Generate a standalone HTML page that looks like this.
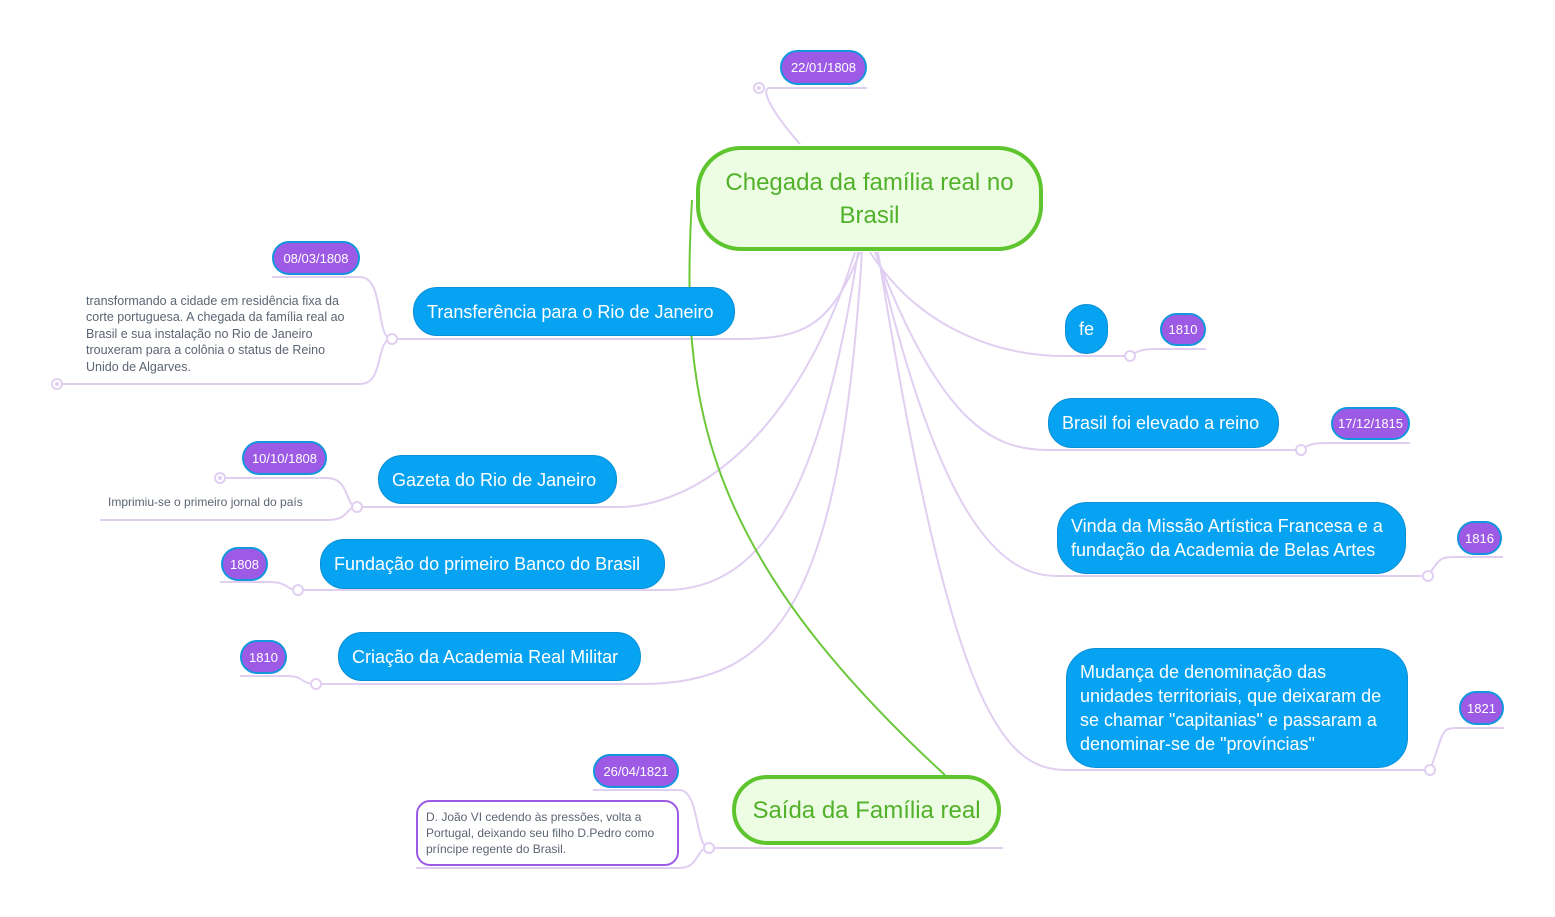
<!DOCTYPE html>
<html><head><meta charset="utf-8"><style>
body{margin:0;width:1555px;height:917px;background:#fff;position:relative;overflow:hidden;font-family:"Liberation Sans",sans-serif}
.n{position:absolute;box-sizing:border-box;background:#06a3f2;border:1.5px solid #0b8fd6;color:#fff;border-radius:24px;font-size:18px;display:flex;align-items:center;padding:0 13px;line-height:24px}
.t{position:absolute;box-sizing:border-box;background:#9d5ae5;border:2px solid #1296dc;color:#fff;border-radius:18px;font-size:13px;display:flex;align-items:center;justify-content:center}
.g{position:absolute;box-sizing:border-box;border:4px solid #5fc52f;background:#edfde3;color:#52b12a;font-size:24px;text-align:center;display:flex;align-items:center;justify-content:center;line-height:33px}
.note{position:absolute;font-size:12px;color:#5c6573;line-height:16.4px}
svg{position:absolute;left:0;top:0}
</style></head><body>
<svg width="1555" height="917" fill="none" stroke="#e1cff2" stroke-width="2">
<path d="M860 252 C830 330 800 339 735 339 L392 339"/>
<path d="M855 252 C800 430 700 507 617 507 L357 507"/>
<path d="M858 252 C820 500 760 590 665 590 L298 590"/>
<path d="M862 252 C840 600 780 684 641 684 L316 684"/>
<path d="M870 252 C920 330 1000 356 1065 356 L1130 356"/>
<path d="M875 252 C940 420 990 450 1048 450 L1301 450"/>
<path d="M877 252 C940 520 1000 576 1057 576 L1428 576"/>
<path d="M878 252 C950 700 1000 770 1066 770 L1430 770"/>
<path d="M392 339 C375 339 385 277 360 277 L272 277"/>
<path d="M392 339 C375 339 385 384 360 384 L57 384"/>
<path d="M357 507 C345 507 350 478 327 478 L220 478"/>
<path d="M357 507 C345 507 350 520 327 520 L100 520"/>
<path d="M298 590 C285 590 290 582 268 582 L220 582"/>
<path d="M316 684 C300 684 305 676 287 676 L240 676"/>
<path d="M1130 356 C1140 349 1145 349 1160 349 L1206 349"/>
<path d="M1301 450 C1310 443 1315 443 1331 443 L1410 443"/>
<path d="M1428 576 C1440 558 1440 557 1457 557 L1503 557"/>
<path d="M1430 770 C1445 730 1440 728 1459 728 L1504 728"/>
<path d="M709 848 C695 848 700 790 679 790 L593 790"/>
<path d="M709 848 C695 848 700 868 679 868 L416 868"/>
<path d="M709 848 L1003 848"/>
<path d="M800 144 C770 110 760 88 770 88 L867 88"/>
<path d="M692 200 C680 400 700 550 945 775" stroke="#6cc83a" stroke-width="2"/>
<g fill="#fff"><circle cx="392" cy="339" r="5"/><circle cx="357" cy="507" r="5"/><circle cx="298" cy="590" r="5"/><circle cx="316" cy="684" r="5"/><circle cx="1130" cy="356" r="5"/><circle cx="1301" cy="450" r="5"/><circle cx="1428" cy="576" r="5"/><circle cx="1430" cy="770" r="5"/><circle cx="709" cy="848" r="5"/><circle cx="57" cy="384" r="5"/><circle cx="220" cy="478" r="5"/><circle cx="759" cy="88" r="5"/></g>
<g fill="#e1cff2" stroke="none"><circle cx="57" cy="384" r="2"/><circle cx="220" cy="478" r="2"/><circle cx="759" cy="88" r="2"/></g>
</svg>
<div class="g" style="left:696px;top:146px;width:347px;height:105px;border-radius:45px;padding:0 15px">Chegada da família real no Brasil</div>
<div class="g" style="left:732px;top:775px;width:269px;height:70px;border-radius:35px">Saída da Família real</div>
<div class="t" style="left:780px;top:50px;width:87px;height:35px">22/01/1808</div>
<div class="n" style="left:413px;top:287px;width:322px;height:49px">Transferência para o Rio de Janeiro</div>
<div class="t" style="left:272px;top:241px;width:88px;height:34px">08/03/1808</div>
<div class="note" style="left:86px;top:293px;width:275px;font-size:12.5px">transformando a cidade em residência fixa da corte portuguesa. A chegada da família real ao Brasil e sua instalação no Rio de Janeiro trouxeram para a colônia o status de Reino Unido de Algarves.</div>
<div class="n" style="left:378px;top:455px;width:239px;height:49px">Gazeta do Rio de Janeiro</div>
<div class="t" style="left:242px;top:441px;width:85px;height:34px">10/10/1808</div>
<div class="note" style="left:108px;top:494px">Imprimiu-se o primeiro jornal do país</div>
<div class="n" style="left:320px;top:539px;width:345px;height:50px">Fundação do primeiro Banco do Brasil</div>
<div class="t" style="left:221px;top:547px;width:47px;height:34px">1808</div>
<div class="n" style="left:338px;top:632px;width:303px;height:49px">Criação da Academia Real Militar</div>
<div class="t" style="left:240px;top:640px;width:47px;height:34px">1810</div>
<div class="t" style="left:593px;top:754px;width:86px;height:34px">26/04/1821</div>
<div style="position:absolute;left:416px;top:800px;width:263px;height:66px;box-sizing:border-box;border:2px solid #9d5ae5;border-radius:14px;padding:7px 8px;font-size:12px;color:#5c6573;line-height:16px">D. João VI cedendo às pressões, volta a Portugal, deixando seu filho D.Pedro como príncipe regente do Brasil.</div>
<div class="n" style="left:1065px;top:304px;width:43px;height:50px;justify-content:center;padding:0">fe</div>
<div class="t" style="left:1160px;top:313px;width:46px;height:33px">1810</div>
<div class="n" style="left:1048px;top:398px;width:231px;height:50px">Brasil foi elevado a reino</div>
<div class="t" style="left:1331px;top:407px;width:79px;height:33px">17/12/1815</div>
<div class="n" style="left:1057px;top:502px;width:349px;height:72px;border-radius:30px">Vinda da Missão Artística Francesa e a fundação da Academia de Belas Artes</div>
<div class="t" style="left:1457px;top:521px;width:45px;height:34px">1816</div>
<div class="n" style="left:1066px;top:648px;width:342px;height:120px;border-radius:30px">Mudança de denominação das unidades territoriais, que deixaram de se chamar "capitanias" e passaram a denominar-se de "províncias"</div>
<div class="t" style="left:1459px;top:691px;width:45px;height:34px">1821</div>
</body></html>
